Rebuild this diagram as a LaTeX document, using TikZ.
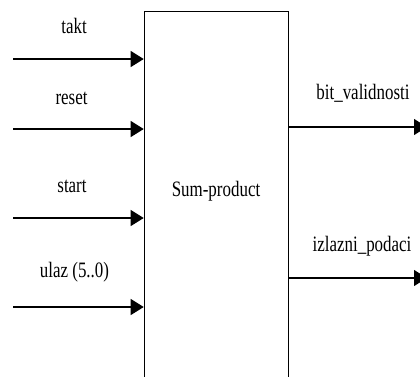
\documentclass[tikz,border=0pt]{standalone}
\usepackage{fontspec}
\setmainfont{Liberation Serif}[FakeStretch=0.77]
\usetikzlibrary{arrows.meta}
\begin{document}
\begin{tikzpicture}[x=1pt,y=-1pt,
  sig/.style={line width=1.1pt,-{Triangle[length=13pt,width=16pt]}},
  lbl/.style={anchor=base,inner sep=0pt,font=\fontsize{22}{26}\selectfont},
  block/.style={draw,line width=1.1pt,minimum width=144.3pt,minimum height=400pt,inner sep=0pt}]
\useasboundingbox (0,0) rectangle (420,376);
\clip (0,0) rectangle (420,376);
% the processing block (runs off the bottom edge)
\node[block,anchor=north west] (sp) at (143.7,10.5) {};
\node[lbl] (name) at (216,196.5) {Sum-product};
% inputs
\coordinate (in1) at (13,59);
\coordinate (in2) at (13,129);
\coordinate (in3) at (13,218);
\coordinate (in4) at (13,307);
\draw[sig] (in1) -- (in1 -| sp.west);
\draw[sig] (in2) -- (in2 -| sp.west);
\draw[sig] (in3) -- (in3 -| sp.west);
\draw[sig] (in4) -- (in4 -| sp.west);
\node[lbl] (l1) at (74,33) {takt};
\node[lbl] (l2) at (71.5,104) {reset};
\node[lbl] (l3) at (72,192.5) {start};
\node[lbl] (l4) at (74.5,277.5) {ulaz (5..0)};
% outputs
\coordinate (out1) at (427,127);
\coordinate (out2) at (427,278);
\draw[sig] (out1 -| sp.east) -- (out1);
\draw[sig] (out2 -| sp.east) -- (out2);
\node[lbl] (o1) at (363,99.5) {bit\_validnosti};
\node[lbl] (o2) at (362,251) {izlazni\_podaci};
\end{tikzpicture}
\end{document}
